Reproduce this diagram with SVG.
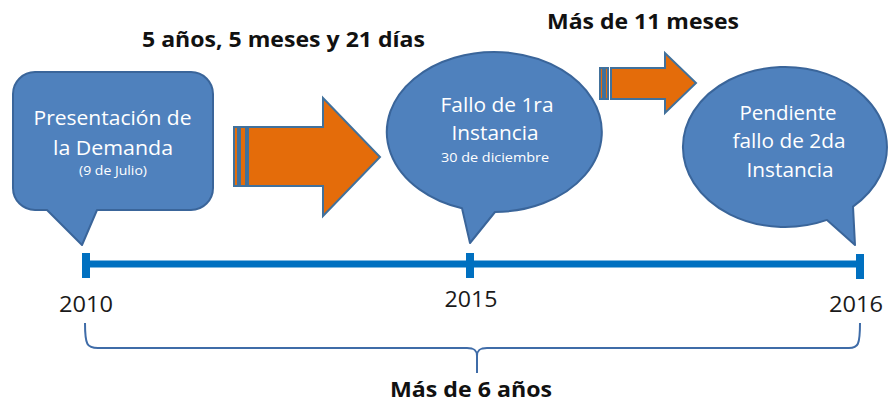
<svg xmlns="http://www.w3.org/2000/svg" width="888" height="405" viewBox="0 0 888 405">
<style>
.bubble{fill:#4F81BD;stroke:#3A659A;stroke-width:2;stroke-linejoin:round}
.arrow{fill:#E46C0A;stroke:#41719C;stroke-width:2;stroke-linejoin:miter}
.wt{fill:#FFFFFF;font-family:"Open Sans","Liberation Sans",sans-serif;font-size:20px;text-anchor:middle}
.ws{font-size:13px}
.bk{fill:#111111;font-family:"Open Sans","Liberation Sans",sans-serif;font-size:22px;font-weight:bold;text-anchor:middle}
.yr{fill:#1a1a1a;font-family:"Open Sans","Liberation Sans",sans-serif;font-size:22px;text-anchor:middle}
.tl{stroke:#0070C0;fill:none}
.brace{stroke:#3F6CA8;stroke-width:2;fill:none}
</style>
<g id="connectors">
  <g id="arrow1">
    <rect class="arrow" x="234" y="127" width="4" height="59"/>
    <rect class="arrow" x="240" y="127" width="6" height="59"/>
    <polygon class="arrow" points="248,127 323,127 323,98 380,157 323,216 323,186 248,186"/>
  </g>
  <g id="arrow2">
    <rect class="arrow" x="600" y="68" width="3" height="31"/>
    <rect class="arrow" x="605" y="68" width="3" height="31"/>
    <polygon class="arrow" points="611,68 665,68 665,53 696,83 665,113 665,99 611,99"/>
  </g>
  <g id="timeline">
    <line class="tl" x1="86" y1="264" x2="860" y2="264" stroke-width="7"/>
    <line class="tl" x1="86" y1="253" x2="86" y2="278" stroke-width="8"/>
    <line class="tl" x1="470" y1="253" x2="470" y2="278" stroke-width="8"/>
    <line class="tl" x1="860" y1="254" x2="860" y2="279" stroke-width="8"/>
  </g>
  <path class="brace" d="M85,323 C85,345 87,348 98,348 L467,348 C474,348 477,350 477,356 L477,373 M477,356 C477,350 480,348 487,348 L849,348 C858,348 860,345 860,323"/>
</g>
<g id="node-presentacion">
  <path class="bubble" d="M35,72 H191 A22,22 0 0 1 213,94 V188 A22,22 0 0 1 191,210 H97 L82,245 L47,210 H35 A22,22 0 0 1 13,188 V94 A22,22 0 0 1 35,72 Z"/>
  <text class="wt" x="112.5" y="125" textLength="158" lengthAdjust="spacingAndGlyphs">Presentación de</text>
  <text class="wt" x="113" y="155" textLength="120" lengthAdjust="spacingAndGlyphs">la Demanda</text>
  <text class="wt ws" x="113" y="175" textLength="68" lengthAdjust="spacingAndGlyphs">(9 de Julio)</text>
</g>
<g id="node-fallo1">
  <path class="bubble" d="M462,208.3 L470,243 L495,212 A107.5,80 0 1 0 462,208.3 Z"/>
  <text class="wt" x="497" y="112" textLength="113" lengthAdjust="spacingAndGlyphs">Fallo de 1ra</text>
  <text class="wt" x="495" y="140" textLength="87" lengthAdjust="spacingAndGlyphs">Instancia</text>
  <text class="wt ws" x="495" y="162" textLength="108" lengthAdjust="spacingAndGlyphs">30 de diciembre</text>
</g>
<g id="node-pendiente">
  <path class="bubble" d="M827,219.9 L855,245 L853,206.6 A102,80 0 1 0 827,219.9 Z"/>
  <text class="wt" x="788" y="120" textLength="97" lengthAdjust="spacingAndGlyphs">Pendiente</text>
  <text class="wt" x="789" y="148" textLength="113" lengthAdjust="spacingAndGlyphs">fallo de 2da</text>
  <text class="wt" x="790" y="177" textLength="87" lengthAdjust="spacingAndGlyphs">Instancia</text>
</g>
<g id="labels">
  <text class="bk" x="283.5" y="47" textLength="283" lengthAdjust="spacingAndGlyphs">5 años, 5 meses y 21 días</text>
  <text class="bk" x="643" y="29" textLength="192" lengthAdjust="spacingAndGlyphs">Más de 11 meses</text>
  <text class="bk" x="471" y="397" textLength="162" lengthAdjust="spacingAndGlyphs">Más de 6 años</text>
  <text class="yr" x="86" y="312" textLength="54" lengthAdjust="spacingAndGlyphs">2010</text>
  <text class="yr" x="471" y="307" textLength="53" lengthAdjust="spacingAndGlyphs">2015</text>
  <text class="yr" x="856" y="312" textLength="54" lengthAdjust="spacingAndGlyphs">2016</text>
</g>
</svg>
